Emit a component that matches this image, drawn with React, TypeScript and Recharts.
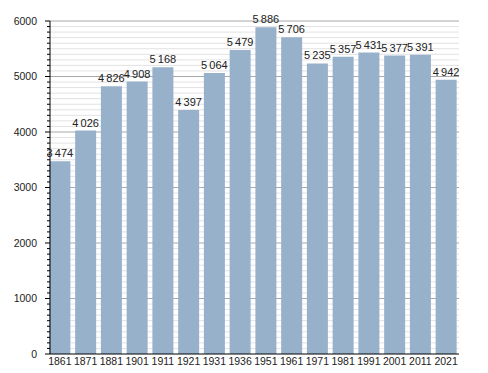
import React from 'react';
import { BarChart, Bar, XAxis, YAxis, CartesianGrid, LabelList } from 'recharts';

const years = ['1861', '1871', '1881', '1901', '1911', '1921', '1931', '1936', '1951', '1961', '1971', '1981', '1991', '2001', '2011', '2021'];
const population = [3474, 4026, 4826, 4908, 5168, 4397, 5064, 5479, 5886, 5706, 5235, 5357, 5431, 5377, 5391, 4942];
const yMajorTicks = [0, 1000, 2000, 3000, 4000, 5000, 6000];
const yMinorStep = 100;
const yMax = 6000;

const data = years.map((y, i) => ({ year: y, pop: population[i] }));
const allTicks = Array.from({ length: yMax / yMinorStep + 1 }, (_, i) => i * yMinorStep);

const fmt = (v: number) => {
  const s = String(v);
  return s.length > 3 ? s.slice(0, -3) + '\u2009' + s.slice(-3) : s;
};

const FONT = '"Liberation Sans", Arial, sans-serif';
const PLOT_TOP = 21;
const PLOT_BOTTOM = 354;
const AXIS_X = 50;

const YTick = (props: any) => {
  const { y, payload } = props;
  const v = payload.value as number;
  const major = yMajorTicks.includes(v);
  return (
    <g>
      <line x1={AXIS_X - (major ? 5 : 3)} x2={AXIS_X} y1={y} y2={y} stroke="#000" strokeWidth={1} />
      {major && (
        <text x={37} y={y} dy="0.35em" textAnchor="end" fontSize={10.5} fill="#222" fontFamily={FONT}>
          {v}
        </text>
      )}
    </g>
  );
};

const gridLine = (props: any) => {
  const { x1, x2, y1, y2, key } = props;
  const val = Math.round(((PLOT_BOTTOM - y1) / (PLOT_BOTTOM - PLOT_TOP)) * (yMax / yMinorStep)) * yMinorStep;
  const major = val % 1000 === 0;
  if (val === 0) return <g key={key} />;
  return <line key={key} x1={x1} x2={x2} y1={y1} y2={y2} stroke={major ? '#a8a8a8' : '#e2e2e2'} strokeWidth={1} />;
};

export default function App() {
  return (
    <div style={{ position: 'absolute', left: 0, top: 0, width: 488, height: 373, background: '#fff' }}>
      <BarChart
        width={488}
        height={373}
        data={data}
        margin={{ top: PLOT_TOP, right: 29, bottom: 0, left: 0 }}
        barCategoryGap={2.4}
        style={{ fontFamily: FONT }}
      >
        <CartesianGrid vertical={false} horizontal={gridLine} />
        <XAxis
          dataKey="year"
          height={19}
          tickLine={false}
          tickSize={0}
          tickMargin={4}
          axisLine={{ stroke: '#000' }}
          padding={{ left: -3, right: 0 }}
          interval={0}
          tick={{ fontSize: 10.5, fill: '#222', fontFamily: FONT }}
        />
        <YAxis
          width={50}
          domain={[0, yMax]}
          ticks={allTicks}
          interval={0}
          tickLine={false}
          axisLine={{ stroke: '#000' }}
          tick={<YTick />}
        />
        <Bar dataKey="pop" fill="#97b1cb" isAnimationActive={false}>
          <LabelList
            dataKey="pop"
            position="top"
            offset={4}
            formatter={(v: any) => fmt(Number(v))}
            style={{ fontSize: 11, fill: '#222', fontFamily: FONT }}
          />
        </Bar>
      </BarChart>
    </div>
  );
}
